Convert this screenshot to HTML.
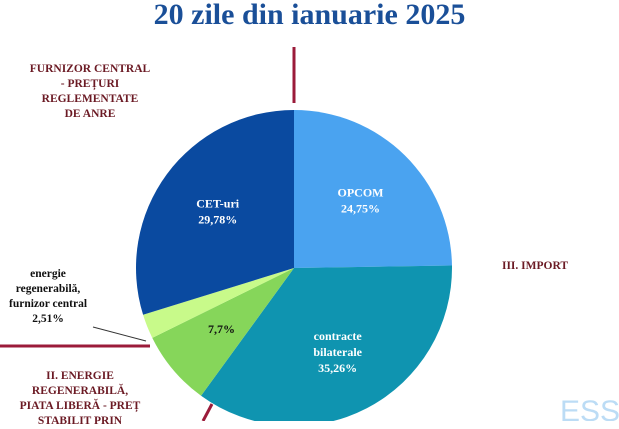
<!DOCTYPE html>
<html><head><meta charset="utf-8"><style>
body{margin:0;width:619px;height:421px;overflow:hidden;background:#fff;font-family:"Liberation Serif",serif;}
.t{position:absolute;font-weight:bold;text-align:center;}
.red{color:#6b1a24;font-size:11.5px;line-height:15px;}
</style></head><body>
<div class="t" style="left:0;width:619px;top:-2px;font-size:30px;color:#1a4f98;">20 zile din ianuarie 2025</div>
<svg id="c" width="619" height="421" style="position:absolute;left:0;top:0">
<line x1="294" y1="47" x2="294" y2="103" stroke="#9b1b3a" stroke-width="3"/>
<line x1="0" y1="346" x2="150" y2="346" stroke="#9b1b3a" stroke-width="3"/>
<line x1="212" y1="404" x2="203" y2="421" stroke="#9b1b3a" stroke-width="3"/>
<line x1="93" y1="327" x2="146" y2="341" stroke="#333" stroke-width="1"/>
<text x="590" y="421" font-family="Liberation Sans" font-size="30" fill="#bcdcf5" text-anchor="middle">ESS</text>
</svg>
<div class="t red" style="left:20px;width:140px;top:62px;">FURNIZOR CENTRAL<br>- PREȚURI<br>REGLEMENTATE<br>DE ANRE</div>
<div class="t red" style="left:490px;width:90px;top:259px;">III. IMPORT</div>
<div class="t red" style="left:10px;width:140px;top:369px;">II. ENERGIE<br>REGENERABILĂ,<br>PIATA LIBERĂ - PREȚ<br>STABILIT PRIN</div>
<div class="t" style="left:0;width:96px;top:267px;font-size:11.5px;line-height:15px;color:#111;">energie<br>regenerabilă,<br>furnizor central<br>2,51%</div>
<script>
const categories=["OPCOM","contracte bilaterale","energie regenerabilă piață liberă","energie regenerabilă furnizor central","CET-uri"];
const values=[24.75,35.26,7.7,2.51,29.78];
const labels=["OPCOM\n24,75%","contracte\nbilaterale\n35,26%","7,7%","","CET-uri\n29,78%"];
const colors=["#4aa3f0","#0f94b0","#86d65a","#c8fa8a","#0a4aa0"];
const svg=document.getElementById('c');const NS="http://www.w3.org/2000/svg";
const cx=294,cy=268,r=158;
const total=values.reduce((a,b)=>a+b,0);
function pt(f,rr){const a=f*2*Math.PI-Math.PI/2;return [cx+rr*Math.cos(a),cy+rr*Math.sin(a)];}
let acc=0;
const first=svg.firstElementChild;
values.forEach((v,i)=>{
 const f0=acc/total,f1=(acc+v)/total;acc+=v;
 const p0=pt(f0,r),p1=pt(f1,r);
 const p=document.createElementNS(NS,'path');
 p.setAttribute('d',`M${cx},${cy}L${p0[0]},${p0[1]}A${r},${r} 0 ${f1-f0>0.5?1:0} 1 ${p1[0]},${p1[1]}Z`);
 p.setAttribute('fill',colors[i]);
 
 
 svg.insertBefore(p,first);
 if(labels[i]){
  const m=pt((f0+f1)/2,r*0.6);const lines=labels[i].split("\n");
  lines.forEach((ln,j)=>{
   const t=document.createElementNS(NS,'text');
   t.setAttribute('x',m[0]);t.setAttribute('y',m[1]+(j-(lines.length-1)/2)*16+4);
   t.setAttribute('text-anchor','middle');t.setAttribute('font-weight','bold');t.setAttribute('font-size','12');
   t.setAttribute('font-family','Liberation Serif');t.setAttribute('fill',i==2?'#111':'#fff');
   t.textContent=ln;
   
   
   svg.appendChild(t);
  });
 }
});
</script>
</body></html>
